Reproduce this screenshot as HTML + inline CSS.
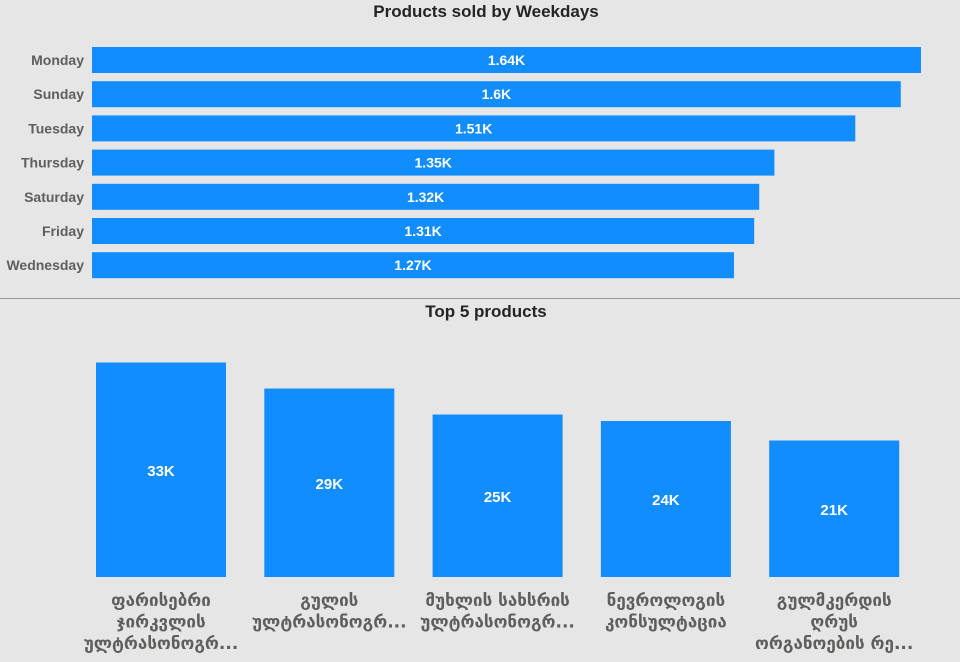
<!DOCTYPE html>
<html><head><meta charset="utf-8"><style>
body{margin:0;width:960px;height:662px;background:#e6e6e6;overflow:hidden;font-family:"Liberation Sans","DejaVu Sans",sans-serif}
svg{display:block}
</style></head><body>
<svg id="c" width="960" height="662">
<text x="486" y="17" text-anchor="middle" font-size="17" font-weight="bold" fill="#252423">Products sold by Weekdays</text>
<line x1="0" y1="298.5" x2="960" y2="298.5" stroke="#9a9a9a" stroke-width="1"/>
<text x="486" y="317" text-anchor="middle" font-size="17" font-weight="bold" fill="#252423">Top 5 products</text>
<g id="topg"></g><g id="botg"></g>
</svg>
<script>
const days=["Monday","Sunday","Tuesday","Thursday","Saturday","Friday","Wednesday"];
const dayValues=[1640,1600,1510,1350,1320,1310,1270];
const dayLabels=["1.64K","1.6K","1.51K","1.35K","1.32K","1.31K","1.27K"];
const products=[["ფარისებრი","ჯირკვლის","ულტრასონოგრ..."],["გულის","ულტრასონოგრ..."],["მუხლის სახსრის","ულტრასონოგრ..."],["ნევროლოგის","კონსულტაცია"],["გულმკერდის","ღრუს","ორგანოების რე..."]];
const productValues=[33,29,25,24,21];
const productLabels=["33K","29K","25K","24K","21K"];
const NS="http://www.w3.org/2000/svg";
function mk(t,a,p){const e=document.createElementNS(NS,t);for(const k in a)e.setAttribute(k,a[k]);p.appendChild(e);return e;}
const xs=v=>92+v*(829/1640);
const topG=document.getElementById('topg');
days.forEach((d,i)=>{
 const y=47+i*34.2;
 const t=mk('text',{x:84,y:y+18,'text-anchor':'end','font-size':14,'font-weight':'bold',fill:'#605e5c'},topG);t.textContent=d;
 
 
 const r=mk('rect',{x:92,y:y,width:xs(dayValues[i])-92,height:26,fill:'#118dff'},topG);
 
 
 const l=mk('text',{x:(92+xs(dayValues[i]))/2,y:y+18,'text-anchor':'middle','font-size':14,'font-weight':'bold',fill:'#fff'},topG);l.textContent=dayLabels[i];
 
 
});
const ys=v=>577-v*6.5;
const botG=document.getElementById('botg');
products.forEach((p,i)=>{
 const x=96+i*168.3,yt=ys(productValues[i]);
 const r=mk('rect',{x:x,y:yt,width:130,height:577-yt,fill:'#118dff'},botG);
 
 
 const l=mk('text',{x:x+65,y:(yt+577)/2+6,'text-anchor':'middle','font-size':15,'font-weight':'bold',fill:'#fff'},botG);l.textContent=productLabels[i];
 
 
 p.forEach((s,j)=>{
  const t=mk('text',{x:x+65,y:606+j*21.5,'text-anchor':'middle','font-size':17,'font-weight':'bold',fill:'#605e5c',style:'font-family:"DejaVu Sans",sans-serif'},botG);t.textContent=s;
  
  
 });
});
</script>
</body></html>
